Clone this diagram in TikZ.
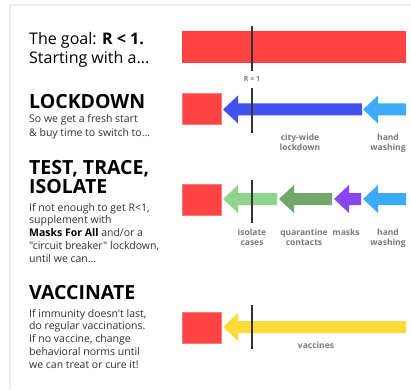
\documentclass[tikz,border=0pt]{standalone}
\usepackage{fontspec}
\setmainfont{Open Sans}[Ligatures=TeXOff]
\definecolor{barred}{HTML}{FF4242}
\definecolor{lockblue}{HTML}{4152F0}
\definecolor{handblue}{HTML}{3DAAFA}
\definecolor{isogreen}{HTML}{8ED48A}
\definecolor{quargreen}{HTML}{6FA86A}
\definecolor{maskpurple}{HTML}{8A45F5}
\definecolor{vacyellow}{HTML}{FDDC3A}
\definecolor{bodygray}{HTML}{303030}
\definecolor{labelgray}{HTML}{7A7A7A}
\definecolor{framegray}{HTML}{EEEEEE}
\newcommand\fatarrow[4]{%
  \fill[#4] (#1,#3) -- (#1+15,#3-14) -- (#1+15,#3-6) -- (#2,#3-6) -- (#2,#3+6)
    -- (#1+15,#3+6) -- (#1+15,#3+14) -- cycle;}
\tikzset{
  heading/.style={anchor=base west, inner sep=0, font=\fontsize{19.5}{19}\selectfont\bfseries},
  bodytext/.style={anchor=base west, inner sep=0, text=bodygray},
  redsq/.style={fill=barred, draw=barred!70!white, line width=0.4pt},
  rline/.style={draw=black!80, line width=1.2pt},
  arrlabel/.style={anchor=north, inner sep=0, align=center, text=labelgray,
    font=\fontsize{8.5}{9.8}\selectfont\bfseries},
}
\begin{document}
\begin{tikzpicture}[x=1pt,y=-1pt]
\useasboundingbox (0,0) rectangle (411,390);
\fill[white] (0,0) rectangle (411,390);
\draw[framegray, line width=1.2pt] (10,390) -- (10,5) -- (411,5);

% left texts
\node[bodytext, text=black] (goal) at (29,45) {\parbox[t]{170pt}{\fontsize{16}{19}\selectfont\raggedright
  The goal: \textbf{R < 1.}\\Starting with a...\par}};
\node[heading] (lockh) at (29,109) {LOCKDOWN};
\node[bodytext] (lockb) at (29,123) {\parbox[t]{170pt}{\fontsize{10.5}{13.4}\selectfont\raggedright
  So we get a fresh start\\\& buy time to switch to...\par}};
\node[bodytext, text=black] (testh) at (29,174) {\parbox[t]{170pt}{\fontsize{19.5}{19}\selectfont\bfseries\raggedright
  TEST, TRACE,\\ISOLATE\par}};
\node[bodytext] (testb) at (29,211) {\parbox[t]{170pt}{\fontsize{10.5}{12.8}\selectfont\raggedright
  If not enough to get R<1,\\supplement with\\\textbf{\color{black}Masks For All} and/or a\\
  "circuit breaker" lockdown,\\until we can...\par}};
\node[heading] (vach) at (29,299) {VACCINATE};
\node[bodytext] (vacb) at (29,317) {\parbox[t]{170pt}{\fontsize{10.5}{12.9}\selectfont\raggedright
  If immunity doesn't last,\\do regular vaccinations.\\If no vaccine, change\\
  behavioral norms until\\we can treat or cure it!\par}};

% row 1
\fill[barred] (182,31) rectangle (406,63);
\draw[rline] (252,26) -- (252,71);
\node[text=labelgray, font=\fontsize{7}{7}\selectfont\bfseries, inner sep=0] (r1) at (252,79) {R = 1};

% row 2
\draw[redsq] (182,93) rectangle (221,124);
\fatarrow{223}{362}{109.5}{lockblue}
\fatarrow{363}{406}{109.5}{handblue}
\draw[rline] (252,88) -- (252,133);
\node[arrlabel] (l1) at (300,134) {city-wide\\lockdown};
\node[arrlabel] (l2) at (388,134) {hand\\washing};

% row 3
\draw[redsq] (182,184) rectangle (221,215);
\fatarrow{223}{277}{199}{isogreen}
\fatarrow{279}{332}{199}{quargreen}
\fatarrow{334}{361}{199}{maskpurple}
\fatarrow{363}{406}{199}{handblue}
\draw[rline] (252,180) -- (252,223);
\node[arrlabel] (t1) at (252,229) {isolate\\cases};
\node[arrlabel] (t2) at (304,229) {quarantine\\contacts};
\node[arrlabel] (t3) at (346,229) {masks};
\node[arrlabel] (t4) at (388,229) {hand\\washing};

% row 4
\draw[redsq] (182,312) rectangle (221,343);
\fatarrow{223}{406}{327}{vacyellow}
\draw[rline] (252,305) -- (252,349);
\node[arrlabel, anchor=base] (v1) at (316,348.5) {vaccines};
\end{tikzpicture}
\end{document}
